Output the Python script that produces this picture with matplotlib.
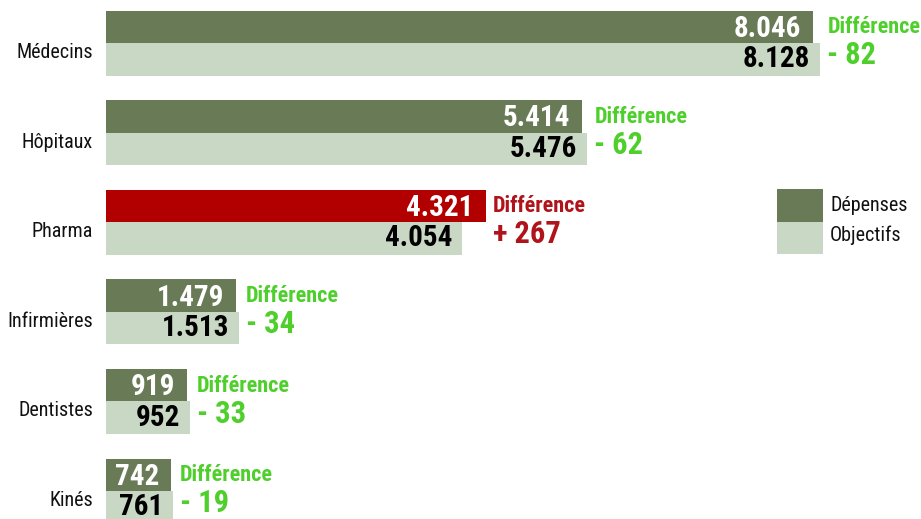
import matplotlib
matplotlib.use("Agg")
import matplotlib.pyplot as plt
from matplotlib import font_manager as fm
from matplotlib.patches import Rectangle

# data (en millions d'euros)
categories = ["Médecins", "Hôpitaux", "Pharma", "Infirmières", "Dentistes", "Kinés"]
depenses = [8046, 5414, 4321, 1479, 919, 742]
objectifs = [8128, 5476, 4054, 1513, 952, 761]
dep_labels = ["8.046", "5.414", "4.321", "1.479", "919", "742"]
obj_labels = ["8.128", "5.476", "4.054", "1.513", "952", "761"]
diff_labels = ["- 82", "- 62", "+ 267", "- 34", "- 33", "- 19"]

dark_green = "#687b56"
light_green = "#c9d8c4"
red_bar = "#b20000"
green_txt = "#4fcf2c"
red_txt = "#b0141a"

# condensed font, like the newspaper one
names = {f.name for f in fm.fontManager.ttflist}
fam = next((n for n in ["Roboto Condensed", "Barlow Semi Condensed", "PT Sans Narrow",
                        "Liberation Sans Narrow"] if n in names), "DejaVu Sans")
font = dict(family=fam)

fig = plt.figure(figsize=(9.21, 5.19), dpi=100)
ax = fig.add_axes([0, 0, 1, 1])
px = 0.0879  # pixels per unit
ax.set_xlim(-106 / px, 815 / px)
ax.set_ylim((519 - 43) / 89.6, -43 / 89.6)
ax.axis("off")

h = 32.5 / 89.6
y = list(range(len(categories)))
dep_colors = [red_bar if c == "Pharma" else dark_green for c in categories]
ax.barh([v - h / 2 for v in y], depenses, height=h, color=dep_colors, linewidth=0)
ax.barh([v + h / 2 for v in y], objectifs, height=h, color=light_green, linewidth=0)

for i, cat in enumerate(categories):
    ax.annotate(cat, (0, i), xytext=(-13, -15), textcoords="offset pixels",
                ha="right", va="baseline", fontsize=14.5, color="#111111", **font)
    ax.annotate(dep_labels[i], (depenses[i], i - h / 2), xytext=(-12, -10),
                textcoords="offset pixels", ha="right", va="baseline",
                fontsize=21, fontweight="bold", color="white", **font)
    ax.annotate(obj_labels[i], (objectifs[i], i + h / 2), xytext=(-10, -8),
                textcoords="offset pixels", ha="right", va="baseline",
                fontsize=21, fontweight="bold", color="black", **font)
    c = red_txt if diff_labels[i].startswith("+") else green_txt
    xe = max(depenses[i], objectifs[i])
    ax.annotate("Différence", (xe, i - h / 2), xytext=(7, -6.5),
                textcoords="offset pixels", ha="left", va="baseline",
                fontsize=16, fontweight="bold", color=c, **font)
    ax.annotate(diff_labels[i], (xe, i + h / 2), xytext=(7, -5),
                textcoords="offset pixels", ha="left", va="baseline",
                fontsize=22, fontweight="bold", color=c, **font)

# legend
W, H = 921, 519
fig.patches.append(Rectangle((777 / W, 1 - 222 / H), 46 / W, 33 / H,
                             transform=fig.transFigure, color=dark_green, lw=0))
fig.patches.append(Rectangle((777 / W, 1 - 254 / H), 46 / W, 32 / H,
                             transform=fig.transFigure, color=light_green, lw=0))
fig.text(830 / W, 1 - 211 / H, "Dépenses", ha="left", va="baseline",
         fontsize=14.5, color="#111111", **font)
fig.text(830 / W, 1 - 241 / H, "Objectifs", ha="left", va="baseline",
         fontsize=14.5, color="#111111", **font)

fig.savefig("out.png", dpi=100)
